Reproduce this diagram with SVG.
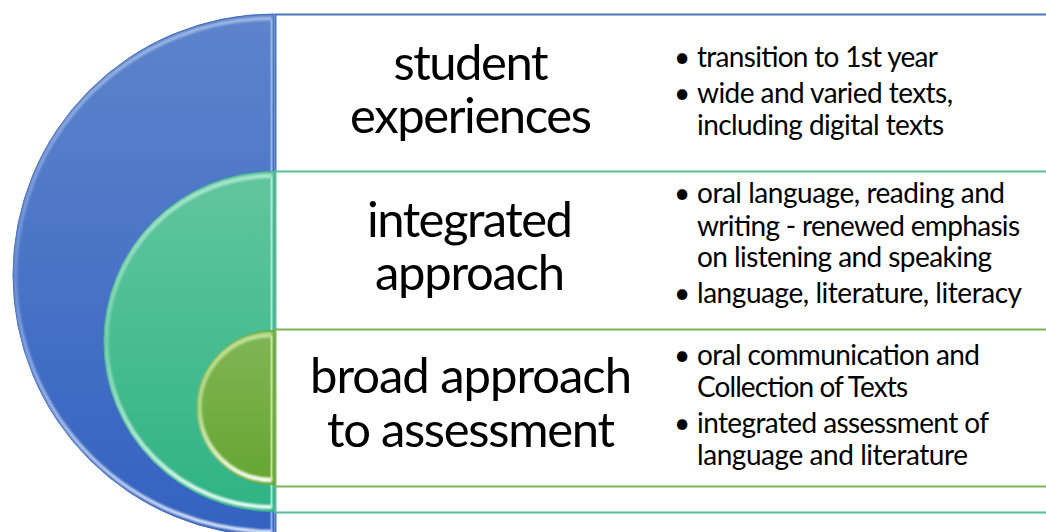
<svg xmlns="http://www.w3.org/2000/svg" width="1046" height="532" viewBox="0 0 1046 532">
  <style>
    .title { font-family: Lato, "Open Sans", "Liberation Sans", sans-serif; font-size: 49px; fill: #000; text-anchor: middle; }
    .item { font-family: Lato, "Open Sans", "Liberation Sans", sans-serif; font-size: 28px; fill: #000; }
    .bullet { font-family: Lato, "Open Sans", "Liberation Sans", sans-serif; font-size: 28px; fill: #000; text-anchor: middle; }
    .box { fill: #ffffff; stroke-width: 2; }
  </style>
  <defs>
    <linearGradient id="gBlue" x1="0" y1="0" x2="0" y2="1">
      <stop offset="0" stop-color="#5d84cb"/>
      <stop offset="1" stop-color="#3462c1"/>
    </linearGradient>
    <linearGradient id="gTeal" x1="0" y1="0" x2="0" y2="1">
      <stop offset="0" stop-color="#62c69e"/>
      <stop offset="1" stop-color="#2fb385"/>
    </linearGradient>
    <linearGradient id="gGreen" x1="0" y1="0" x2="0" y2="1">
      <stop offset="0" stop-color="#80b655"/>
      <stop offset="1" stop-color="#66a531"/>
    </linearGradient>
    <linearGradient id="hBlue" gradientUnits="userSpaceOnUse" x1="0" y1="14" x2="0" y2="536">
      <stop offset="0" stop-color="#dce8ff" stop-opacity="0.55"/>
      <stop offset="0.5" stop-color="#dce8ff" stop-opacity="0.25"/>
      <stop offset="1" stop-color="#eef5ff" stop-opacity="0.95"/>
    </linearGradient>
    <linearGradient id="hTeal" gradientUnits="userSpaceOnUse" x1="0" y1="171" x2="0" y2="512">
      <stop offset="0" stop-color="#e0fff5" stop-opacity="0.6"/>
      <stop offset="0.5" stop-color="#e0fff5" stop-opacity="0.3"/>
      <stop offset="1" stop-color="#f0fffb" stop-opacity="1"/>
    </linearGradient>
    <linearGradient id="hGreen" gradientUnits="userSpaceOnUse" x1="0" y1="330" x2="0" y2="485">
      <stop offset="0" stop-color="#eaffc8" stop-opacity="0.6"/>
      <stop offset="0.5" stop-color="#eaffc8" stop-opacity="0.5"/>
      <stop offset="1" stop-color="#ffffff" stop-opacity="1"/>
    </linearGradient>
    <filter id="soft" x="-10%" y="-10%" width="120%" height="120%">
      <feGaussianBlur stdDeviation="0.9"/>
    </filter>
  </defs>

  <g id="node-student-experiences">
    <rect class="box" x="275.5" y="14.5" width="790" height="540" stroke="#4d74bf"/>
    <path d="M274,14 A261,261 0 0 0 274,536 Z" fill="url(#gBlue)" stroke="#3d66b8" stroke-width="1"/>
    <path d="M272,18.5 A256.5,256.5 0 0 0 272,531.5" fill="none" stroke="url(#hBlue)" stroke-width="3.5" filter="url(#soft)"/>
    <line x1="271.5" y1="20" x2="271.5" y2="532" stroke="#a9c3f0" stroke-width="2" opacity="0.8"/>
    <text class="title" x="471" y="80" textLength="155">student</text>
    <text class="title" x="471" y="133" textLength="242">experiences</text>
    <text class="bullet" x="682" y="67">•</text>
    <text class="item" x="697" y="67" textLength="241">transition to 1st year</text>
    <text class="bullet" x="682" y="103">•</text>
    <text class="item" x="697" y="103" textLength="256">wide and varied texts,</text>
    <text class="item" x="697" y="135" textLength="247">including digital texts</text>
  </g>

  <g id="node-integrated-approach">
    <rect class="box" x="275.5" y="171.5" width="790" height="341" stroke="#56bf9a"/>
    <path d="M274,171.5 A170,170 0 0 0 274,511.5 Z" fill="url(#gTeal)" stroke="#3fb38c" stroke-width="1"/>
    <path d="M272,176 A165.5,165.5 0 0 0 272,507" fill="none" stroke="url(#hTeal)" stroke-width="4" filter="url(#soft)"/>
    <line x1="271.5" y1="177" x2="271.5" y2="507" stroke="#b4f4e2" stroke-width="2" opacity="0.85"/>
    <text class="title" x="470" y="237" textLength="206">integrated</text>
    <text class="title" x="470" y="290" textLength="190">approach</text>
    <text class="bullet" x="682" y="203">•</text>
    <text class="item" x="697" y="203" textLength="308">oral language, reading and</text>
    <text class="item" x="697" y="236" textLength="323">writing - renewed emphasis</text>
    <text class="item" x="697" y="267" textLength="295">on listening and speaking</text>
    <text class="bullet" x="682" y="303">•</text>
    <text class="item" x="697" y="303" textLength="325">language, literature, literacy</text>
  </g>

  <g id="node-broad-approach">
    <rect class="box" x="275.5" y="329.5" width="790" height="157" stroke="#7ab650"/>
    <path d="M274,330.5 A77,77 0 0 0 274,484.5 Z" fill="url(#gGreen)" stroke="#6aa83a" stroke-width="1"/>
    <path d="M272,335 A72.5,72.5 0 0 0 272,480" fill="none" stroke="url(#hGreen)" stroke-width="4.5" filter="url(#soft)"/>
    <line x1="271.5" y1="336" x2="271.5" y2="480" stroke="#d4efa6" stroke-width="2" opacity="0.85"/>
    <text class="title" x="471" y="393" textLength="322">broad approach</text>
    <text class="title" x="471" y="447" textLength="288">to assessment</text>
    <text class="bullet" x="682" y="365">•</text>
    <text class="item" x="697" y="365" textLength="283">oral communication and</text>
    <text class="item" x="697" y="397" textLength="211">Collection of Texts</text>
    <text class="bullet" x="682" y="433">•</text>
    <text class="item" x="697" y="433" textLength="292">integrated assessment of</text>
    <text class="item" x="697" y="465" textLength="271">language and literature</text>
  </g>
</svg>
